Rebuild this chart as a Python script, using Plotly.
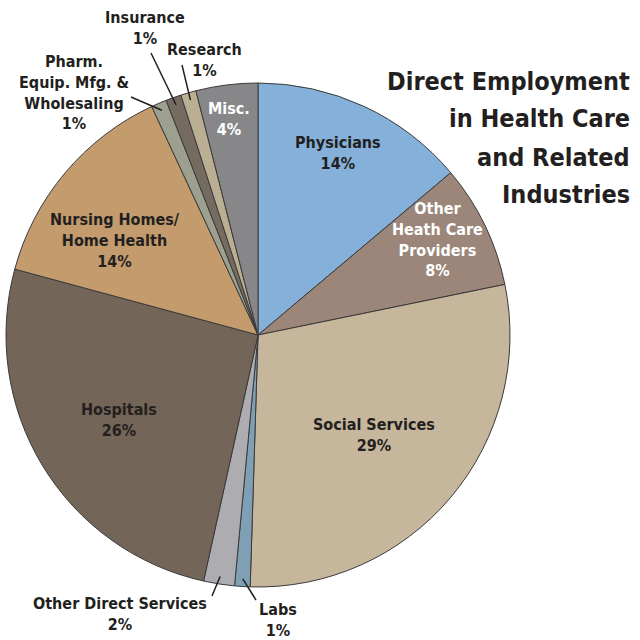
import math
import plotly.graph_objects as go

# ---- data ----
categories = ["Physicians", "Other Health Care Providers", "Social Services", "Labs",
              "Other Direct Services", "Hospitals", "Nursing Homes/Home Health",
              "Pharm. Equip. Mfg. & Wholesaling", "Insurance", "Research", "Misc."]
shares = [14, 8, 29, 1, 2, 26, 14, 1, 1, 1, 4]
label_texts = ["Physicians<br>14%", "Other<br>Heath Care<br>Providers<br>8%",
               "Social Services<br>29%", "Labs<br>1%", "Other Direct Services<br>2%",
               "Hospitals<br>26%", "Nursing Homes/<br>Home Health<br>14%",
               "Pharm.<br>Equip. Mfg. &<br>Wholesaling<br>1%", "Insurance<br>1%",
               "Research<br>1%", "Misc.<br>4%"]
colors = ["#84b0d9", "#9b8679", "#c6b69b", "#7f9fb4", "#adadb1", "#736557",
          "#c49b6d", "#9d9f8f", "#766b60", "#baae93", "#87878a"]
text_colors = ["#231f20", "#ffffff", "#231f20", "#231f20", "#231f20", "#231f20",
               "#231f20", "#231f20", "#231f20", "#231f20", "#ffffff"]
title_lines = ["Direct Employment", "in Health Care", "and Related", "Industries"]

# ---- layout geometry (pixels in a 640x640 canvas) ----
W = H = 640
CX, CY, R = 258, 335, 252
FONT = "DejaVu Sans Condensed, Liberation Sans Narrow, Arial Narrow, sans-serif"

def px(x):
    return x / W

def py(y):
    return 1 - y / H

# label centres (pixels) and, for outside labels, leader-line outer ends
label_pos = [(338, 153), (437, 239), (374, 435), (278, 620), (120, 614),
             (119, 420), (115, 240), (74, 92), (145, 28), (204, 60), (229, 119)]
leader_outer = {3: (256, 600), 4: (212, 596), 7: (131, 97), 8: (151, 53), 9: (182, 65)}
title_y = [81, 119, 157, 194]

fig = go.Figure(go.Pie(
    labels=categories, values=shares, sort=False, direction="clockwise", rotation=0,
    marker=dict(colors=colors, line=dict(color="#3a3a3a", width=1)),
    textinfo="none", hoverinfo="label+percent", showlegend=False,
    domain=dict(x=[px(CX - R), px(CX + R)], y=[py(CY + R), py(CY - R)]),
))

annotations = []
shapes = []
total = sum(shares)
cum = 0
for i, v in enumerate(shares):
    mid = (cum + v / 2) / total * 2 * math.pi
    cum += v
    lx, ly = label_pos[i]
    annotations.append(dict(
        x=px(lx), y=py(ly), xref="paper", yref="paper", showarrow=False,
        text=label_texts[i], xanchor="center", yanchor="middle", align="center",
        font=dict(family=FONT, size=16, color=text_colors[i], weight="bold"),
    ))
    if i in leader_outer:
        tx = CX + 0.97 * R * math.sin(mid)
        ty = CY - 0.97 * R * math.cos(mid)
        ox, oy = leader_outer[i]
        shapes.append(dict(type="line", xref="paper", yref="paper",
                           x0=px(ox), y0=py(oy), x1=px(tx), y1=py(ty),
                           line=dict(color="#231f20", width=1.5)))

for line, ty in zip(title_lines, title_y):
    annotations.append(dict(
        x=px(632), y=py(ty), xref="paper", yref="paper", showarrow=False,
        text=line, xanchor="right", yanchor="middle", align="right",
        font=dict(family=FONT, size=25, color="#231f20", weight="bold"),
    ))

fig.update_layout(
    width=W, height=H, margin=dict(l=0, r=0, t=0, b=0),
    paper_bgcolor="white", plot_bgcolor="white",
    annotations=annotations, shapes=shapes,
)

fig.write_html("out.html", config={"displayModeBar": False},
               post_script="document.body.style.margin='0';")
